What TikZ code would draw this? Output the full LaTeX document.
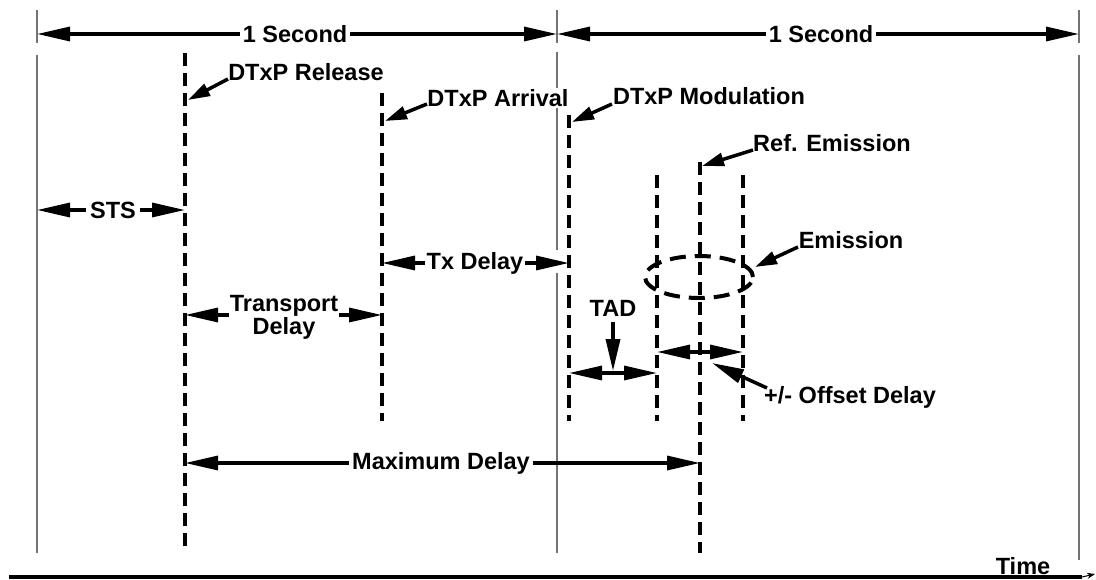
\documentclass[tikz,border=0pt]{standalone}
\usepackage{fontspec}
\setmainfont{Liberation Sans}
\usetikzlibrary{arrows.meta}
\begin{document}
\begin{tikzpicture}[x=1pt,y=-1pt,
  lbl/.style={font=\fontsize{23.5}{21}\selectfont\bfseries, inner sep=0pt},
  gaplbl/.style={lbl, fill=white, inner xsep=3pt, inner ysep=2pt},
  thinln/.style={line width=1.2pt, black!55},
  dsh/.style={line width=4pt, dash pattern=on 13pt off 7pt},
  dim/.style={line width=3.3pt, {Triangle[length=33pt,width=14pt]}-{Triangle[length=33pt,width=14pt]}},
  ptr/.style={line width=3.5pt, -{Triangle[length=22pt,width=13pt]}},
  ptrlong/.style={line width=3.5pt, -{Triangle[length=32pt,width=14pt]}},
]
\useasboundingbox[fill=white] (0,0) rectangle (1096,579);

% thin second boundaries
\coordinate (L1) at (37,10);  \coordinate (L2) at (37,43);
\coordinate (L3) at (37,55);  \coordinate (L4) at (37,553);
\coordinate (M1) at (557,10); \coordinate (M2) at (557,43);
\coordinate (M3) at (557,52); \coordinate (M4) at (557,250);
\coordinate (M5) at (557,273); \coordinate (M6) at (557,553);
\coordinate (R1) at (1079,10); \coordinate (R2) at (1079,43);
\coordinate (R3) at (1079,55); \coordinate (R4) at (1079,560);
\draw[thinln] (L1) -- (L2) (L3) -- (L4);
\draw[thinln] (M1) -- (M2) (M3) -- (M4) (M5) -- (M6);
\draw[thinln] (R1) -- (R2) (R3) -- (R4);

% event lines
\coordinate (rel1) at (185,53);  \coordinate (rel2) at (185,550);
\coordinate (arr1) at (382,93);  \coordinate (arr2) at (382,421);
\coordinate (mod1) at (569,115); \coordinate (mod2) at (569,421);
\coordinate (eL1) at (657,175);  \coordinate (eL2) at (657,421);
\coordinate (ref1) at (700,162); \coordinate (ref2) at (700,553);
\coordinate (eR1) at (743,175);  \coordinate (eR2) at (743,421);
\draw[dsh] (rel1) -- (rel2);
\draw[dsh] (arr1) -- (arr2);
\draw[dsh] (mod1) -- (mod2);
\draw[dsh] (eL1) -- (eL2);
\draw[dsh] (ref1) -- (ref2);
\draw[dsh] (eR1) -- (eR2);
\coordinate (ec) at (699,277);
\draw[dsh, dash pattern=on 16pt off 9pt] (ec) ellipse [x radius=54pt, y radius=21pt];

% dimension arrows
\draw[dim] (37,34) -- (557,34);
\node[gaplbl] (sec1) at (295,34) {1 Second};
\draw[dim] (557,34) -- (1079,34);
\node[gaplbl] (sec2) at (821,34) {1 Second};
\draw[dim] (37,210) -- (185,210);
\node[gaplbl, inner xsep=4pt] (sts) at (113,210) {STS};
\draw[dim] (382,263) -- (569,263);
\node[gaplbl, inner xsep=2pt] (tx) at (475,263) {Tx Delay};
\draw[dim] (185,315) -- (382,315);
\node[lbl, fill=white, inner xsep=1pt, inner ysep=1pt, align=center] (trans) at (284,317) {Transport\\Delay};
\draw[dim] (569,373) -- (657,373);
\draw[dim] (657,352) -- (743,352);
\draw[dim] (185,463) -- (700,463);
\node[gaplbl] (max) at (441,463) {Maximum Delay};

% labels
\node[lbl, fill=white, inner sep=1pt] (rel) at (306,72) {DTxP Release};
\node[lbl, fill=white, inner sep=1pt] (arr) at (498,98) {DTxP Arrival};
\node[lbl, fill=white, inner sep=1pt] (mod) at (709,96) {DTxP Modulation};
\node[lbl] (ref) at (832,143) {Ref. Emission};
\node[lbl] (emi) at (851,240) {Emission};
\node[lbl] (tad) at (613,308) {TAD};
\node[lbl] (off) at (850,397) {+/- Offset Delay};
\node[lbl] (time) at (1023,566) {Time};

% pointers
\coordinate (pRel) at (188,100);
\coordinate (pArr) at (385,121);
\coordinate (pMod) at (572,122);
\coordinate (pRef) at (702,166);
\coordinate (pEmi) at (755,267);
\coordinate (pTad) at (613,371);
\coordinate (pOff) at (712,363);
\draw[ptr] (228,79) -- (pRel);
\draw[ptr] (427,104) -- (pArr);
\draw[ptr] (612,104) -- (pMod);
\draw[ptr] (753,150) -- (pRef);
\draw[ptr] (798,247) -- (pEmi);
\draw[ptrlong] (tad.south) ++(0,6) -- (pTad);
\draw[ptrlong] (767,388) -- (pOff);

% time axis
\coordinate (ax0) at (9,577);
\coordinate (ax1) at (1082,577);
\coordinate (ax2) at (1095,574);
\draw[line width=3.2pt] (ax0) -- (ax1);
\draw[line width=1pt, -{Stealth[length=8pt,width=6pt]}] (ax1) -- (ax2);
\end{tikzpicture}
\end{document}
